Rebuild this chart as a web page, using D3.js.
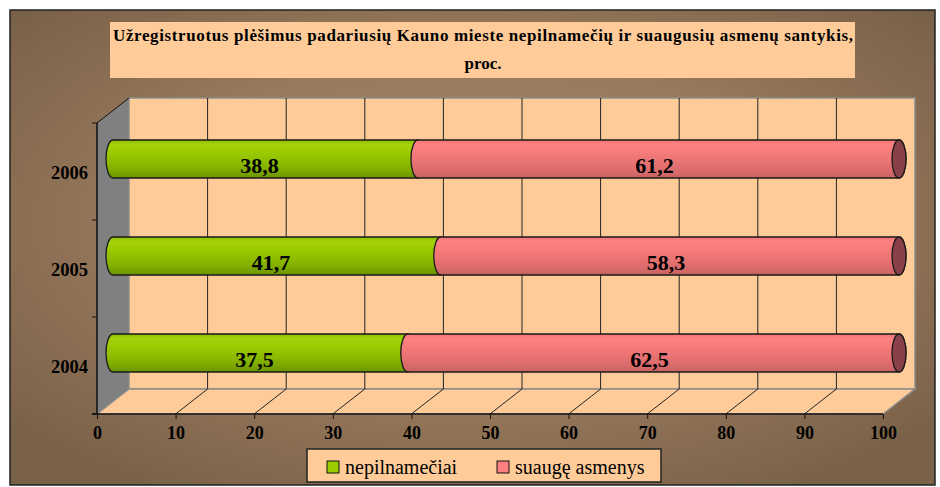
<html>
<head>
<meta charset="utf-8">
<title>Plėšimai Kaune</title>
<script src="https://d3js.org/d3.v7.min.js"></script>
<style>
  body { margin: 0; background: #fff; }
  text { font-family: "Liberation Serif", "Times New Roman", serif; }
</style>
</head>
<body>
<div id="chart"></div>
<script>
// data
var years = ["2004", "2005", "2006"];
var minors = [37.5, 41.7, 38.8];   // nepilnamečiai
var adults = [62.5, 58.3, 61.2];   // suaugę asmenys
var xTickValues = [0, 10, 20, 30, 40, 50, 60, 70, 80, 90, 100];
var seriesNames = ["nepilnamečiai", "suaugę asmenys"];
var titleLines = ["Užregistruotus plėšimus padariusių Kauno mieste nepilnamečių ir suaugusių asmenų santykis,", "proc."];

var W = 940, H = 487;
var svg = d3.select("#chart").append("svg")
    .attr("width", W).attr("height", H);

var defs = svg.append("defs");

// brown background
var bg = defs.append("radialGradient").attr("id", "bg")
    .attr("cx", "50%").attr("cy", "45%").attr("r", "65%");
bg.append("stop").attr("offset", "0%").attr("stop-color", "#a7896a");
bg.append("stop").attr("offset", "55%").attr("stop-color", "#98795c");
bg.append("stop").attr("offset", "100%").attr("stop-color", "#7a6249");

function barGrad(id, stops) {
  var g = defs.append("linearGradient").attr("id", id)
      .attr("x1", 0).attr("y1", 0).attr("x2", 0).attr("y2", 1);
  stops.forEach(function (s) {
    g.append("stop").attr("offset", s[0]).attr("stop-color", s[1]);
  });
}
barGrad("green", [["0%", "#8dbb00"], ["12%", "#a4d40a"], ["30%", "#9ccc00"],
                  ["60%", "#8cbb00"], ["80%", "#7fab00"], ["100%", "#6b9300"]]);
barGrad("pink", [["0%", "#f07474"], ["12%", "#ff8282"], ["30%", "#f87c7c"],
                 ["60%", "#e87272"], ["80%", "#dc6c6c"], ["100%", "#c86262"]]);

// chart area
svg.append("rect")
    .attr("x", 10).attr("y", 10).attr("width", 925).attr("height", 475)
    .attr("fill", "url(#bg)").attr("stroke", "#222").attr("stroke-width", 1.5);

// title
svg.append("rect")
    .attr("x", 110).attr("y", 22).attr("width", 745).attr("height", 56)
    .attr("fill", "#ffcc99");
svg.selectAll(".title").data(titleLines).enter().append("text")
    .attr("class", "title")
    .attr("x", 483)
    .attr("y", function (d, i) { return 41 + i * 28; })
    .attr("text-anchor", "middle")
    .attr("textLength", function (d, i) { return i === 0 ? 740 : null; })
    .attr("lengthAdjust", "spacing")
    .style("font-size", "17px")
    .style("font-weight", "bold")
    .text(function (d) { return d; });

// 3d geometry
var dx = 32, dy = 25;
var x = d3.scaleLinear().domain([0, 100]).range([97, 883]);
var y = d3.scaleBand().domain(years.slice().reverse()).range([123, 414]);
var y0 = 123, y1 = 414;

// left side wall
svg.append("path")
    .attr("d", "M" + x(0) + "," + y0 + " L" + (x(0) + dx) + "," + (y0 - dy) +
               " L" + (x(0) + dx) + "," + (y1 - dy) + " L" + x(0) + "," + y1 + "Z")
    .attr("fill", "#808080");

// back wall
svg.append("rect")
    .attr("x", x(0) + dx).attr("y", y0 - dy)
    .attr("width", x(100) - x(0)).attr("height", y1 - y0)
    .attr("fill", "#ffcc99").attr("stroke", "#8c8c8c").attr("stroke-width", 1.5);

// floor
svg.append("path")
    .attr("d", "M" + x(0) + "," + y1 + " L" + x(100) + "," + y1 +
               " L" + (x(100) + dx) + "," + (y1 - dy) + " L" + (x(0) + dx) + "," + (y1 - dy) + "Z")
    .attr("fill", "#ffcc99").attr("stroke", "#8c8c8c").attr("stroke-width", 1.5);

// grid on back wall and floor
var inner = xTickValues.filter(function (d) { return d > 0 && d < 100; });
svg.selectAll(".gridBack").data(inner).enter().append("line")
    .attr("x1", function (d) { return x(d) + dx; })
    .attr("x2", function (d) { return x(d) + dx; })
    .attr("y1", y0 - dy).attr("y2", y1 - dy)
    .attr("stroke", "#222").attr("stroke-width", 1);
svg.selectAll(".gridFloor").data(inner).enter().append("line")
    .attr("x1", function (d) { return x(d); })
    .attr("x2", function (d) { return x(d) + dx; })
    .attr("y1", y1).attr("y2", y1 - dy)
    .attr("stroke", "#222").attr("stroke-width", 1);

// top edge of side wall
svg.append("line")
    .attr("x1", x(0)).attr("y1", y0).attr("x2", x(0) + dx).attr("y2", y0 - dy)
    .attr("stroke", "#111").attr("stroke-width", 1);

// x axis (front edge of floor)
var xAxis = svg.append("g")
    .attr("transform", "translate(0," + y1 + ")")
    .call(d3.axisBottom(x).tickValues(xTickValues).tickSize(5));
xAxis.select(".domain").attr("stroke", "#111").attr("stroke-width", 1.5)
    .attr("d", "M" + (x(0) - 5) + ",0H" + x(100));
xAxis.selectAll(".tick line").attr("stroke", "#111");
xAxis.selectAll(".tick text")
    .attr("y", 25).attr("dy", 0)
    .attr("fill", "#000")
    .style("font-family", "'Liberation Serif', serif")
    .style("font-size", "18px").style("font-weight", "bold");

// y axis
svg.append("line")
    .attr("x1", x(0)).attr("x2", x(0)).attr("y1", y0).attr("y2", y1)
    .attr("stroke", "#111").attr("stroke-width", 1.5);
var yTicks = years.map(function (d) { return y(d); }).concat([y1]);
svg.selectAll(".ytick").data(yTicks).enter().append("line")
    .attr("x1", x(0) - 5).attr("x2", x(0))
    .attr("y1", function (d) { return d; }).attr("y2", function (d) { return d; })
    .attr("stroke", "#111");
svg.selectAll(".ylab").data(years).enter().append("text")
    .attr("x", x(0) - 9)
    .attr("y", function (d) { return y(d) + y.bandwidth() / 2 + 7; })
    .attr("text-anchor", "end")
    .style("font-size", "18.5px").style("font-weight", "bold")
    .text(function (d) { return d; });

// cylinders, placed at mid-depth
var barH = 38, rx = 7, ry = barH / 2;
function cyl(x0, x1, cy) {
  var t = cy - ry, b = cy + ry;
  return "M" + x0 + "," + t + " L" + x1 + "," + t +
         " A" + rx + "," + ry + " 0 0 1 " + x1 + "," + b +
         " L" + x0 + "," + b +
         " A" + rx + "," + ry + " 0 0 1 " + x0 + "," + t + "Z";
}
function fmt(v) { return String(v).replace(".", ","); }

var bars = years.map(function (yr, i) {
  return { year: yr, a: minors[i], b: adults[i] };
});

var g = svg.selectAll(".bar").data(bars).enter().append("g");
function cyY(d) { return y(d.year) + y.bandwidth() / 2 - dy / 2; }
function bx(v) { return x(v) + dx / 2; }

g.append("path")
    .attr("d", function (d) { return cyl(bx(0), bx(d.a), cyY(d)); })
    .attr("fill", "url(#green)").attr("stroke", "#1a1a1a").attr("stroke-width", 1.3);
g.append("path")
    .attr("d", function (d) { return cyl(bx(d.a), bx(d.a + d.b), cyY(d)); })
    .attr("fill", "url(#pink)").attr("stroke", "#1a1a1a").attr("stroke-width", 1.3);
g.append("ellipse")
    .attr("cx", function (d) { return bx(d.a + d.b); })
    .attr("cy", cyY).attr("rx", rx).attr("ry", ry)
    .attr("fill", "#8a4048").attr("stroke", "#1a1a1a").attr("stroke-width", 1.3);

g.append("text")
    .attr("x", function (d) { return (bx(0) + bx(d.a)) / 2 - 6; })
    .attr("y", function (d) { return cyY(d) + 14; })
    .attr("text-anchor", "middle")
    .style("font-size", "22px").style("font-weight", "bold")
    .text(function (d) { return fmt(d.a); });
g.append("text")
    .attr("x", function (d) { return (bx(d.a) + bx(d.a + d.b)) / 2 - 4; })
    .attr("y", function (d) { return cyY(d) + 14; })
    .attr("text-anchor", "middle")
    .style("font-size", "22px").style("font-weight", "bold")
    .text(function (d) { return fmt(d.b); });

// legend
var legend = svg.append("g").attr("transform", "translate(307,449)");
legend.append("rect").attr("width", 354).attr("height", 33)
    .attr("fill", "#ffcc99").attr("stroke", "#222").attr("stroke-width", 1.5);
var swatch = ["#99cc00", "#ff8080"];
var li = legend.selectAll(".li").data(seriesNames).enter().append("g")
    .attr("transform", function (d, i) { return "translate(" + (20 + i * 170) + ",0)"; });
li.append("rect").attr("y", 12).attr("width", 12).attr("height", 12)
    .attr("fill", function (d, i) { return swatch[i]; })
    .attr("stroke", "#111").attr("stroke-width", 1);
li.append("text").attr("x", 18).attr("y", 25)
    .style("font-size", "20px")
    .text(function (d) { return d; });
</script>
</body>
</html>
